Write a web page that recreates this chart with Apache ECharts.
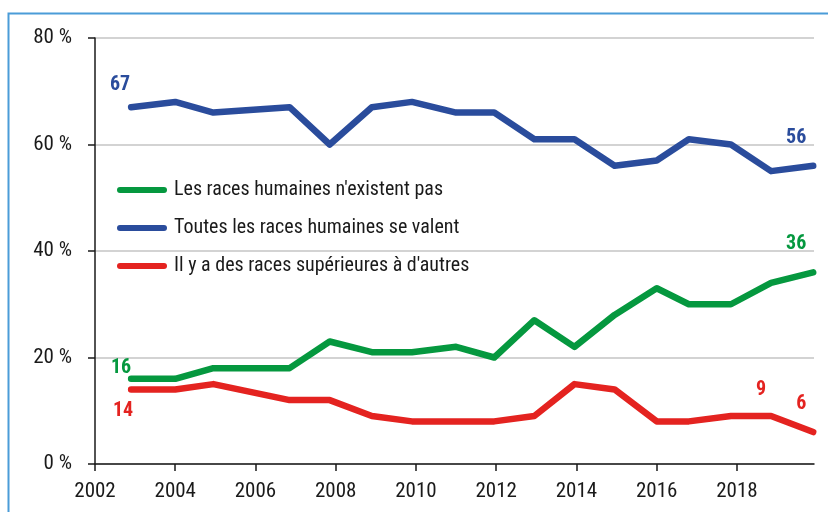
<!DOCTYPE html>
<html>
<head>
<meta charset="utf-8">
<script src="https://cdn.jsdelivr.net/npm/echarts@6/dist/echarts.min.js"></script>
<style>
  html, body { margin: 0; padding: 0; background: #fff; }
  #main { width: 828px; height: 512px; }
</style>
</head>
<body>
<div id="main"></div>
<script>
// survey dates (year position)
const years = [2002.9, 2004, 2004.95, 2006.85, 2007.85, 2008.9, 2009.9, 2011, 2011.95, 2012.95, 2013.95, 2014.95, 2016, 2016.8, 2017.85, 2018.85, 2019.9];
const existentPas = [16, 16, 18, 18, 23, 21, 21, 22, 20, 27, 22, 28, 33, 30, 30, 34, 36];
const seValent = [67, 68, 66, 67, 60, 67, 68, 66, 66, 61, 61, 56, 57, 61, 60, 55, 56];
const superieures = [14, 14, 15, 12, 12, 9, 8, 8, 8, 9, 15, 14, 8, 8, 9, 9, 6];
const xTicks = [2002, 2004, 2006, 2008, 2010, 2012, 2014, 2016, 2018];
const names = [
  "Les races humaines n'existent pas",
  'Toutes les races humaines se valent',
  "Il y a des races supérieures à d'autres"
];

const FONT = "'Liberation Sans Narrow', 'Roboto Condensed', 'DejaVu Sans Condensed', sans-serif";
const colors = ['#05983f', '#2a4c9c', '#e42320'];

// which points carry a value label, and where the label sits
const labelled = [
  { 0: [-10, -11], 16: [-17, -28] },
  { 0: [-11, -22], 16: [-17, -28] },
  { 0: [-8, 22], 15: [-10, -26], 16: [-12, -28] }
];

function build(vals, s) {
  return vals.map((v, i) => {
    const off = labelled[s][i];
    if (!off) return [years[i], v];
    return {
      value: [years[i], v],
      label: {
        show: true, position: 'inside', offset: off,
        color: colors[s], fontWeight: 'bold', fontSize: 20, fontFamily: FONT,
        formatter: String(v)
      }
    };
  });
}

const legendIcon = 'path://M3,0 H47 A3,3 0 0 1 47,6 H3 A3,3 0 0 1 3,0 Z';

const series = [existentPas, seValent, superieures].map((vals, s) => ({
  name: names[s],
  type: 'line',
  data: build(vals, s),
  symbol: 'circle',
  symbolSize: 1,
  itemStyle: { color: colors[s] },
  lineStyle: { width: 6.5, color: colors[s], join: 'round', cap: 'round' },
  z: s === 1 ? 3 : 4
}));

const chart = echarts.init(document.getElementById('main'));
chart.setOption({
  animation: false,
  backgroundColor: '#fff',
  textStyle: { fontFamily: FONT },
  grid: { left: 95, right: 14, top: 38, bottom: 48 },
  graphic: [{
    type: 'rect', left: 6, top: 11, z: 100,
    shape: { width: 900, height: 600 },
    style: { fill: 'none', stroke: '#4b9cd8', lineWidth: 2 }
  }],
  legend: {
    orient: 'vertical',
    left: 117, top: 178, padding: 0,
    itemWidth: 50, itemHeight: 6, itemGap: 14,
    icon: legendIcon,
    textStyle: { fontSize: 20, lineHeight: 24, color: '#1a1a1a', fontFamily: FONT, padding: [0, 0, 0, 2] },
    data: names
  },
  xAxis: {
    type: 'value',
    min: 2002, max: 2019.92,
    axisLine: { lineStyle: { color: '#1a1a1a', width: 1.5 } },
    axisTick: { show: true, length: 7, customValues: xTicks, lineStyle: { color: '#1a1a1a', width: 1.5 } },
    axisLabel: { customValues: xTicks, margin: 17, fontSize: 21, color: '#1a1a1a', fontFamily: FONT, formatter: v => String(v) },
    splitLine: { show: false }
  },
  yAxis: {
    type: 'value',
    min: 0, max: 80, interval: 20,
    axisLine: { show: true, lineStyle: { color: '#1a1a1a', width: 1.5 } },
    axisTick: { show: true, length: 7, lineStyle: { color: '#1a1a1a', width: 1.5 } },
    axisLabel: { margin: 23, fontSize: 21, color: '#1a1a1a', fontFamily: FONT, formatter: '{value} %' },
    splitLine: { lineStyle: { color: '#c4c4c4', width: 1.5 } }
  },
  series: series
});
</script>
</body>
</html>
